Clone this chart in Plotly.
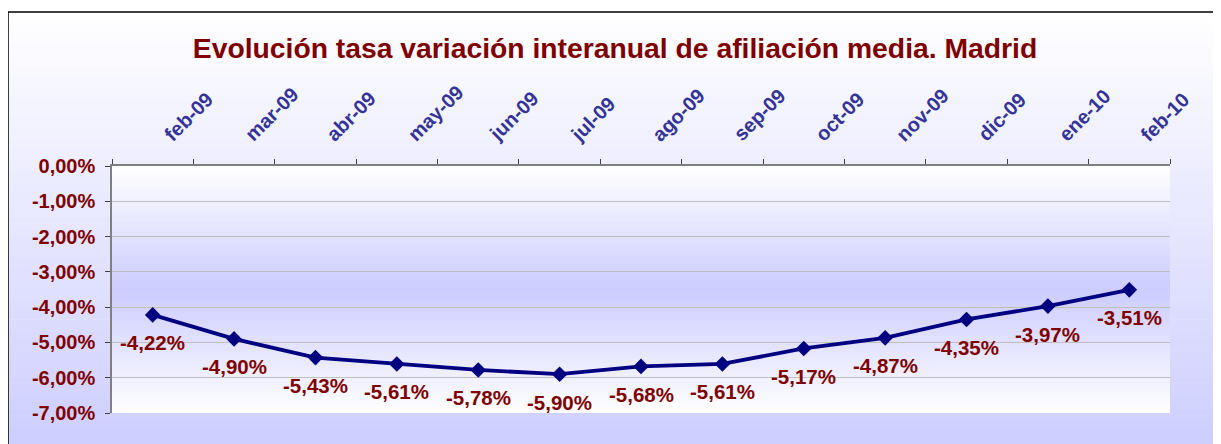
import plotly.graph_objects as go

categories = ["feb-09", "mar-09", "abr-09", "may-09", "jun-09", "jul-09", "ago-09",
              "sep-09", "oct-09", "nov-09", "dic-09", "ene-10", "feb-10"]
values = [-4.22, -4.90, -5.43, -5.61, -5.78, -5.90, -5.68, -5.61, -5.17, -4.87, -4.35, -3.97, -3.51]
y_ticks = [0, -1, -2, -3, -4, -5, -6, -7]
y_tick_labels = ["0,00%", "-1,00%", "-2,00%", "-3,00%", "-4,00%", "-5,00%", "-6,00%", "-7,00%"]
title_text = "Evolución tasa variación interanual de afiliación media. Madrid"

OFF = 8  # page body margin
W, H = 1221 - OFF, 444 - OFF
# plot area in screen pixels
SL, SR, ST, SB = 112, 1170, 166, 413
L, R, T, B = SL - OFF, SR - OFF, ST - OFF, SB - OFF


def px_x(p):  # screen px -> paper x
    return (p - OFF - L) / (R - L)


def px_y(p):  # screen px -> paper y
    return (B - (p - OFF)) / (B - T)


def mix(c1, c2, t):
    return "rgb(%d,%d,%d)" % tuple(round(a + (b - a) * t) for a, b in zip(c1, c2))


WHITE = (255, 255, 255)
LAV = (204, 204, 255)

shapes = []
# outer chart area gradient (white top -> lavender bottom)
n = 70
top_px, bot_px = 12, 460
for i in range(n):
    y0 = top_px + (bot_px - top_px) * i / n
    y1 = top_px + (bot_px - top_px) * (i + 1) / n + 0.6
    t = (i + 0.5) / n
    shapes.append(dict(type="rect", xref="paper", yref="paper", layer="below",
                       x0=px_x(8), x1=px_x(1240), y0=px_y(y1), y1=px_y(y0),
                       fillcolor=mix(WHITE, LAV, t), line_width=0))
# plot area gradient (white -> lavender -> white)
n = 80
for i in range(n):
    y0 = ST + (SB - ST) * i / n
    y1 = ST + (SB - ST) * (i + 1) / n + 0.6
    t = (i + 0.5) / n
    d = 1 - abs(t - 0.5) * 2
    shapes.append(dict(type="rect", xref="paper", yref="paper", layer="below",
                       x0=0, x1=1, y0=max(0, px_y(y1)), y1=px_y(y0),
                       fillcolor=mix(WHITE, LAV, d), line_width=0))
# outer border
shapes.append(dict(type="rect", xref="paper", yref="paper", layer="below",
                   x0=px_x(8), x1=px_x(1260), y0=px_y(480), y1=px_y(12),
                   line=dict(color="black", width=1.5), fillcolor="rgba(0,0,0,0)"))

FONT = "Arial, Liberation Sans, sans-serif"

fig = go.Figure()
fig.add_trace(go.Scatter(
    x=categories, y=values, mode="lines+markers",
    line=dict(color="#000080", width=3.8),
    marker=dict(symbol="diamond", size=12, color="#000080"),
    hoverinfo="skip", showlegend=False,
))

annotations = []
for c, v in zip(categories, values):
    annotations.append(dict(
        x=c, y=v, xref="x", yref="y", showarrow=False,
        text=("%.2f" % v).replace(".", ",") + "%",
        font=dict(family=FONT, size=20.5, color="#800000", weight="bold"),
        yshift=-28,
    ))
# rotated category labels above the plot
for c in categories:
    annotations.append(dict(
        x=c, y=1, xref="x", yref="paper", showarrow=False,
        text=c, textangle=-45, xanchor="left", yanchor="bottom",
        xshift=4, yshift=18,
        font=dict(family=FONT, size=20, color="#333399", weight="bold"),
    ))

fig.update_layout(
    width=W, height=H,
    margin=dict(l=L, r=W - R, t=T, b=H - B),
    paper_bgcolor="white",
    plot_bgcolor="rgba(0,0,0,0)",
    shapes=shapes,
    annotations=annotations,
    title=dict(text=title_text, x=(615 - OFF) / W, xanchor="center",
               y=1 - (48 - OFF) / H, yanchor="middle",
               font=dict(family=FONT, size=28.3, color="#800000", weight="bold")),
    xaxis=dict(
        side="top", type="category", showticklabels=False,
        tickson="boundaries", ticks="outside", ticklen=5, tickcolor="#404040",
        showline=True, linecolor="#808080", linewidth=1.5,
        showgrid=False, range=[-0.5, len(categories) - 0.5],
    ),
    yaxis=dict(
        range=[-7, 0], tickvals=y_ticks, ticktext=y_tick_labels,
        ticks="outside", ticklen=5, tickcolor="#404040",
        showline=True, linecolor="#808080", linewidth=1.5,
        showgrid=True, gridcolor="#C0C0C0", gridwidth=1, zeroline=False,
        ticklabelstandoff=6,
        tickfont=dict(family=FONT, size=20, color="#800000", weight="bold"),
    ),
)

fig.write_html("out.html")
